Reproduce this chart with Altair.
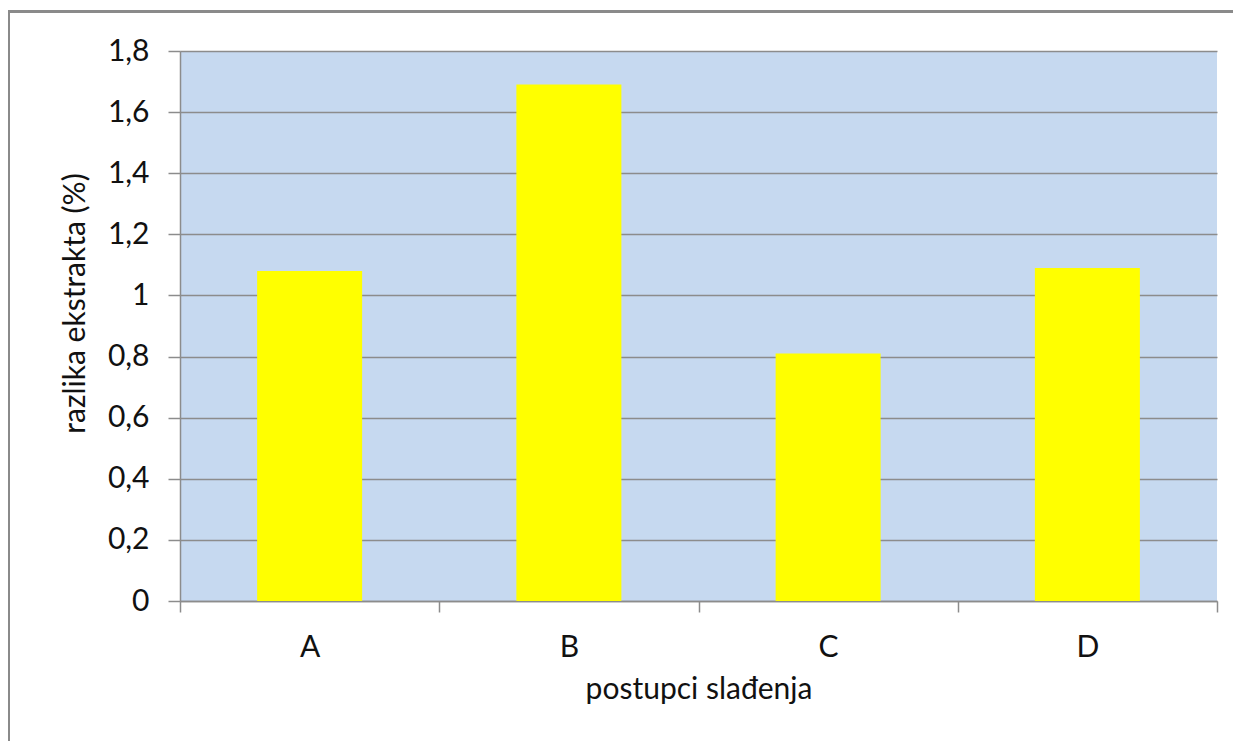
import altair as alt
import pandas as pd

categories = ["A", "B", "C", "D"]
values = [1.08, 1.69, 0.81, 1.09]
y_ticks = [0, 0.2, 0.4, 0.6, 0.8, 1.0, 1.2, 1.4, 1.6, 1.8]

df = pd.DataFrame({"postupak": categories, "razlika": values})

FONT = "Lato"
FS = 30
GRID = "#8c8c8c"
TXT = "#111111"
FRAME = "#8a8a8a"

bars = alt.Chart(df).mark_bar(
    color="#FFFF00", width=alt.RelativeBandSize(0.405)
).encode(
    x=alt.X(
        "postupak:N",
        scale=alt.Scale(paddingInner=0, paddingOuter=0),
        axis=alt.Axis(
            title="postupci slađenja",
            labelAngle=0,
            tickBand="extent",
            tickSize=11,
            tickColor=GRID,
            tickWidth=1.5,
            domainColor=GRID,
            domainWidth=1.5,
            labelPadding=20,
            labelFont=FONT,
            labelFontSize=FS,
            labelColor=TXT,
            titleFont=FONT,
            titleFontSize=FS,
            titleFontWeight="normal",
            titleColor=TXT,
            titleY=88,
            titleBaseline="middle",
            grid=False,
        ),
    ),
    y=alt.Y(
        "razlika:Q",
        scale=alt.Scale(domain=[0, 1.8], nice=False),
        axis=alt.Axis(
            title="razlika ekstrakta (%)",
            values=y_ticks,
            labelExpr="replace(format(datum.value, '.1~f'), '.', ',')",
            tickSize=12,
            tickColor=GRID,
            tickWidth=1.5,
            domainColor=GRID,
            domainWidth=1.5,
            gridColor=GRID,
            gridWidth=1.5,
            labelPadding=19,
            labelFont=FONT,
            labelFontSize=FS,
            labelColor=TXT,
            titleFont=FONT,
            titleFontSize=FS,
            titleFontWeight="normal",
            titleColor=TXT,
            titleX=-105,
            titleY=252,
            titleBaseline="middle",
        ),
    ),
)

frame_df = pd.DataFrame({"k": [0]})
frame_left = alt.Chart(frame_df).mark_rule(color=FRAME, strokeWidth=3, clip=False).encode(
    x=alt.value(-171.5), y=alt.value(-41), y2=alt.value(800)
)
frame_top = alt.Chart(frame_df).mark_rule(color=FRAME, strokeWidth=3, clip=False).encode(
    x=alt.value(-173), x2=alt.value(1100), y=alt.value(-39.5)
)

chart = alt.layer(frame_left, frame_top, bars).properties(
    width=1037,
    height=550,
    autosize=alt.AutoSizeParams(type="none"),
    padding={"left": 172, "top": 43, "right": 16, "bottom": 140},
    background="#FFFFFF",
).configure_view(stroke=None, fill="#C6D9F0")

chart.save("out.html", embed_options={"renderer": "svg", "actions": False})
